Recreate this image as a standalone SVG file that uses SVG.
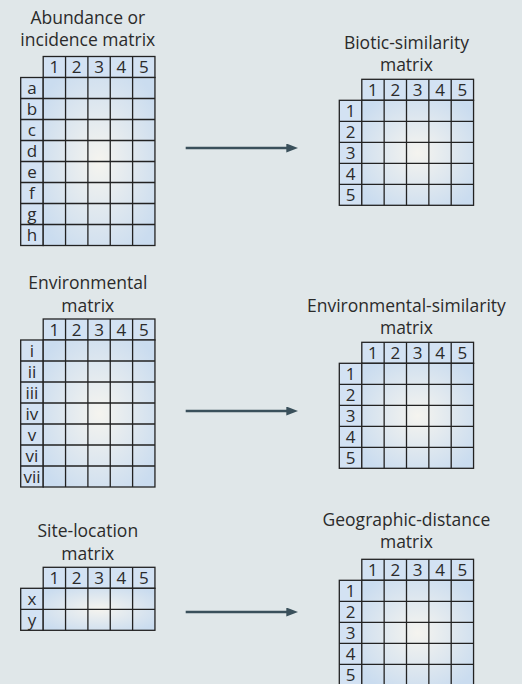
<svg xmlns="http://www.w3.org/2000/svg" width="522" height="684" viewBox="0 0 522 684">
<style>
.t{font-family:"Open Sans","Liberation Sans",sans-serif;font-size:17.5px;fill:#2b2b2b;text-anchor:middle}
.c{font-family:"Open Sans","Liberation Sans",sans-serif;font-size:17px;fill:#2b2b2b;text-anchor:middle}
.h{fill:#d3e2f3;stroke:#222;stroke-width:1.3}
.d{fill:url(#g);stroke:#222;stroke-width:1.3}
.gl{fill:none;stroke:#222;stroke-width:1.3}
.ar{stroke:#3a505b;stroke-width:2.6;fill:none;marker-end:url(#ah)}
</style>
<defs>
<radialGradient id="g" cx="0.5" cy="0.5" r="0.62">
<stop offset="0" stop-color="#f5f4ef"/>
<stop offset="1" stop-color="#cadcef"/>
</radialGradient>
<marker id="ah" viewBox="0 0 12 9" refX="3.7" refY="4.5" markerWidth="12" markerHeight="9" markerUnits="userSpaceOnUse" orient="auto">
<path d="M0,0 L12,4.5 L0,9 Z" fill="#3a505b"/>
</marker>
</defs>
<rect width="522" height="684" fill="#e0e7e9"/>

<g id="abundance-matrix">
<text class="t" x="87.8" y="24">Abundance or</text>
<text class="t" x="87.8" y="46">incidence matrix</text>
<g transform="translate(20.7,56.5)">
<rect class="h" x="22.5" y="0" width="111.75" height="21"/>
<rect class="h" x="0" y="21" width="22.5" height="168"/>
<rect class="d" x="22.5" y="21" width="111.75" height="168"/>
<path class="gl" d="M44.85,0V189M67.2,0V189M89.55,0V189M111.9,0V189M0,42H134.25M0,63H134.25M0,84H134.25M0,105H134.25M0,126H134.25M0,147H134.25M0,168H134.25"/>
<text class="c" x="33.675" y="16.8">1</text><text class="c" x="56.025" y="16.8">2</text><text class="c" x="78.375" y="16.8">3</text><text class="c" x="100.725" y="16.8">4</text><text class="c" x="123.075" y="16.8">5</text>
<text class="c" x="11.25" y="37.5">a</text><text class="c" x="11.25" y="58.5">b</text><text class="c" x="11.25" y="79.5">c</text><text class="c" x="11.25" y="100.5">d</text><text class="c" x="11.25" y="121.5">e</text><text class="c" x="11.25" y="142.5">f</text><text class="c" x="11.25" y="163.5">g</text><text class="c" x="11.25" y="184.5">h</text>
</g>
</g>

<g id="biotic-similarity-matrix">
<text class="t" x="406.4" y="49.3">Biotic-similarity</text>
<text class="t" x="406.4" y="70.7">matrix</text>
<g transform="translate(339.3,79.3)">
<rect class="h" x="22.5" y="0" width="111.75" height="21"/>
<rect class="h" x="0" y="21" width="22.5" height="105"/>
<rect class="d" x="22.5" y="21" width="111.75" height="105"/>
<path class="gl" d="M44.85,0V126M67.2,0V126M89.55,0V126M111.9,0V126M0,42H134.25M0,63H134.25M0,84H134.25M0,105H134.25"/>
<text class="c" x="33.675" y="16.8">1</text><text class="c" x="56.025" y="16.8">2</text><text class="c" x="78.375" y="16.8">3</text><text class="c" x="100.725" y="16.8">4</text><text class="c" x="123.075" y="16.8">5</text>
<text class="c" x="11.25" y="37.5">1</text><text class="c" x="11.25" y="58.5">2</text><text class="c" x="11.25" y="79.5">3</text><text class="c" x="11.25" y="100.5">4</text><text class="c" x="11.25" y="121.5">5</text>
</g>
</g>

<g id="environmental-matrix">
<text class="t" x="87.8" y="289">Environmental</text>
<text class="t" x="87.8" y="311.7">matrix</text>
<g transform="translate(20.7,319)">
<rect class="h" x="22.5" y="0" width="111.75" height="21"/>
<rect class="h" x="0" y="21" width="22.5" height="147"/>
<rect class="d" x="22.5" y="21" width="111.75" height="147"/>
<path class="gl" d="M44.85,0V168M67.2,0V168M89.55,0V168M111.9,0V168M0,42H134.25M0,63H134.25M0,84H134.25M0,105H134.25M0,126H134.25M0,147H134.25"/>
<text class="c" x="33.675" y="16.8">1</text><text class="c" x="56.025" y="16.8">2</text><text class="c" x="78.375" y="16.8">3</text><text class="c" x="100.725" y="16.8">4</text><text class="c" x="123.075" y="16.8">5</text>
<text class="c" x="11.25" y="37.5">i</text><text class="c" x="11.25" y="58.5">ii</text><text class="c" x="11.25" y="79.5">iii</text><text class="c" x="11.25" y="100.5">iv</text><text class="c" x="11.25" y="121.5">v</text><text class="c" x="11.25" y="142.5">vi</text><text class="c" x="11.25" y="163.5">vii</text>
</g>
</g>

<g id="environmental-similarity-matrix">
<text class="t" x="406.4" y="312">Environmental-similarity</text>
<text class="t" x="406.4" y="334.3">matrix</text>
<g transform="translate(339.3,342.3)">
<rect class="h" x="22.5" y="0" width="111.75" height="21"/>
<rect class="h" x="0" y="21" width="22.5" height="105"/>
<rect class="d" x="22.5" y="21" width="111.75" height="105"/>
<path class="gl" d="M44.85,0V126M67.2,0V126M89.55,0V126M111.9,0V126M0,42H134.25M0,63H134.25M0,84H134.25M0,105H134.25"/>
<text class="c" x="33.675" y="16.8">1</text><text class="c" x="56.025" y="16.8">2</text><text class="c" x="78.375" y="16.8">3</text><text class="c" x="100.725" y="16.8">4</text><text class="c" x="123.075" y="16.8">5</text>
<text class="c" x="11.25" y="37.5">1</text><text class="c" x="11.25" y="58.5">2</text><text class="c" x="11.25" y="79.5">3</text><text class="c" x="11.25" y="100.5">4</text><text class="c" x="11.25" y="121.5">5</text>
</g>
</g>

<g id="site-location-matrix">
<text class="t" x="87.8" y="536.7">Site-location</text>
<text class="t" x="87.8" y="560">matrix</text>
<g transform="translate(20.7,567.3)">
<rect class="h" x="22.5" y="0" width="111.75" height="21"/>
<rect class="h" x="0" y="21" width="22.5" height="42"/>
<rect class="d" x="22.5" y="21" width="111.75" height="42"/>
<path class="gl" d="M44.85,0V63M67.2,0V63M89.55,0V63M111.9,0V63M0,42H134.25"/>
<text class="c" x="33.675" y="16.8">1</text><text class="c" x="56.025" y="16.8">2</text><text class="c" x="78.375" y="16.8">3</text><text class="c" x="100.725" y="16.8">4</text><text class="c" x="123.075" y="16.8">5</text>
<text class="c" x="11.25" y="37.5">x</text><text class="c" x="11.25" y="58.5">y</text>
</g>
</g>

<g id="geographic-distance-matrix">
<text class="t" x="406.4" y="526">Geographic-distance</text>
<text class="t" x="406.4" y="548.3">matrix</text>
<g transform="translate(339.3,559.3)">
<rect class="h" x="22.5" y="0" width="111.75" height="21"/>
<rect class="h" x="0" y="21" width="22.5" height="105"/>
<rect class="d" x="22.5" y="21" width="111.75" height="105"/>
<path class="gl" d="M44.85,0V126M67.2,0V126M89.55,0V126M111.9,0V126M0,42H134.25M0,63H134.25M0,84H134.25M0,105H134.25"/>
<text class="c" x="33.675" y="16.8">1</text><text class="c" x="56.025" y="16.8">2</text><text class="c" x="78.375" y="16.8">3</text><text class="c" x="100.725" y="16.8">4</text><text class="c" x="123.075" y="16.8">5</text>
<text class="c" x="11.25" y="37.5">1</text><text class="c" x="11.25" y="58.5">2</text><text class="c" x="11.25" y="79.5">3</text><text class="c" x="11.25" y="100.5">4</text><text class="c" x="11.25" y="121.5">5</text>
</g>
</g>

<g id="connectors">
<line class="ar" x1="185.7" y1="148" x2="290" y2="148"/>
<line class="ar" x1="185.7" y1="411" x2="290" y2="411"/>
<line class="ar" x1="185.7" y1="612" x2="290" y2="612"/>
</g>
</svg>
